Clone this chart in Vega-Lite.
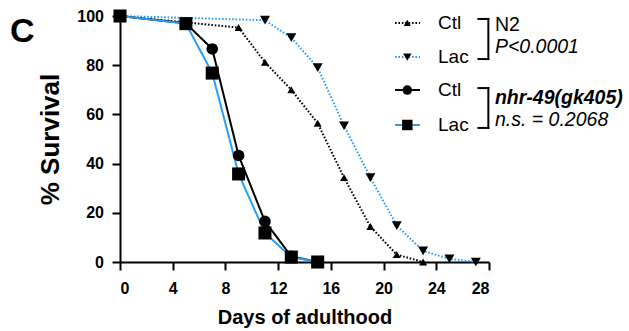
{
  "$schema": "https://vega.github.io/schema/vega-lite/v6.json",
  "width": 369,
  "height": 246,
  "autosize": {"type": "none"},
  "padding": {"left": 120, "top": 16, "right": 140, "bottom": 69},
  "background": "white",
  "config": {
    "view": {"stroke": null},
    "font": "Liberation Sans",
    "axis": {
      "grid": false,
      "domainColor": "black",
      "domainWidth": 2,
      "tickColor": "black",
      "tickWidth": 2,
      "tickSize": 8,
      "labelFont": "Liberation Sans",
      "labelFontWeight": "bold",
      "labelFontSize": 16,
      "labelColor": "black",
      "titleFont": "Liberation Sans",
      "titleFontWeight": "bold",
      "titleColor": "black"
    }
  },
  "datasets": {
    "surv": [
      {"series": "N2 Ctl", "day": 0, "pct": 100},
      {"series": "N2 Ctl", "day": 9, "pct": 95.3},
      {"series": "N2 Ctl", "day": 11, "pct": 81.2},
      {"series": "N2 Ctl", "day": 13, "pct": 70},
      {"series": "N2 Ctl", "day": 15, "pct": 56.4},
      {"series": "N2 Ctl", "day": 17, "pct": 34.3},
      {"series": "N2 Ctl", "day": 19, "pct": 14.4},
      {"series": "N2 Ctl", "day": 21, "pct": 3},
      {"series": "N2 Ctl", "day": 23, "pct": 0},
      {"series": "N2 Lac", "day": 0, "pct": 100},
      {"series": "N2 Lac", "day": 11, "pct": 98.3},
      {"series": "N2 Lac", "day": 13, "pct": 91.2},
      {"series": "N2 Lac", "day": 15, "pct": 79},
      {"series": "N2 Lac", "day": 17, "pct": 55.4},
      {"series": "N2 Lac", "day": 19, "pct": 34.3},
      {"series": "N2 Lac", "day": 21, "pct": 14.8},
      {"series": "N2 Lac", "day": 23, "pct": 4.5},
      {"series": "N2 Lac", "day": 25, "pct": 1.3},
      {"series": "N2 Lac", "day": 27, "pct": 0},
      {"series": "nhr-49 Ctl", "day": 0, "pct": 100},
      {"series": "nhr-49 Ctl", "day": 5, "pct": 97},
      {"series": "nhr-49 Ctl", "day": 7, "pct": 86.6},
      {"series": "nhr-49 Ctl", "day": 9, "pct": 43.3},
      {"series": "nhr-49 Ctl", "day": 11, "pct": 16.5},
      {"series": "nhr-49 Ctl", "day": 13, "pct": 2.3},
      {"series": "nhr-49 Ctl", "day": 15, "pct": 0},
      {"series": "nhr-49 Lac", "day": 0, "pct": 100},
      {"series": "nhr-49 Lac", "day": 5, "pct": 96.9},
      {"series": "nhr-49 Lac", "day": 7, "pct": 76.8},
      {"series": "nhr-49 Lac", "day": 9, "pct": 35.8},
      {"series": "nhr-49 Lac", "day": 11, "pct": 11.8},
      {"series": "nhr-49 Lac", "day": 13, "pct": 2},
      {"series": "nhr-49 Lac", "day": 15, "pct": 0}
    ],
    "leg": [
      {"series": "N2 Ctl", "label": "Ctl", "pct": 97.2},
      {"series": "N2 Lac", "label": "Lac", "pct": 83.3},
      {"series": "nhr-49 Ctl", "label": "Ctl", "pct": 69.9},
      {"series": "nhr-49 Lac", "label": "Lac", "pct": 55.7}
    ],
    "brk": [
      {"group": "N2", "top": 98.8, "bottom": 82.5},
      {"group": "nhr-49(gk405)", "top": 70.7, "bottom": 54.5}
    ],
    "ann": [
      {"text": "N2", "pct": 96.3, "style": "plain"},
      {"text": "P<0.0001", "pct": 87.4, "style": "italic"},
      {"text": "nhr-49(gk405)", "pct": 66.7, "style": "bolditalic"},
      {"text": "n.s. = 0.2068", "pct": 57.7, "style": "italic"}
    ],
    "panel": [
      {"text": "C"}
    ]
  },
  "resolve": {"scale": {"size": "independent"}},
  "layer": [
    {
      "data": {"name": "surv"},
      "mark": {"type": "line", "strokeWidth": 2, "clip": false},
      "encoding": {
        "x": {
          "field": "day", "type": "quantitative",
          "scale": {"domain": [0, 28], "nice": false, "zero": false},
          "axis": {"title": "Days of adulthood", "values": [0, 4, 8, 12, 16, 20, 24, 28], "titleFontSize": 20, "labelPadding": 10.5, "titlePadding": 11}
        },
        "y": {
          "field": "pct", "type": "quantitative",
          "scale": {"domain": [0, 100], "nice": false},
          "axis": {"title": "% Survival", "values": [0, 20, 40, 60, 80, 100], "titleFontSize": 26, "labelPadding": 8.5, "titlePadding": 13}
        },
        "color": {
          "field": "series", "type": "nominal",
          "scale": {"domain": ["N2 Ctl", "N2 Lac", "nhr-49 Ctl", "nhr-49 Lac"], "range": ["#000000", "#2a9df4", "#000000", "#2a9df4"]},
          "legend": null
        },
        "strokeDash": {
          "field": "series", "type": "nominal",
          "scale": {"domain": ["N2 Ctl", "N2 Lac", "nhr-49 Ctl", "nhr-49 Lac"], "range": [[1.6, 1.8], [1.6, 1.8], [1, 0], [1, 0]]},
          "legend": null
        }
      }
    },
    {
      "data": {"name": "surv"},
      "mark": {"type": "point", "filled": true, "color": "black", "opacity": 1, "clip": false},
      "encoding": {
        "x": {"field": "day", "type": "quantitative"},
        "y": {"field": "pct", "type": "quantitative"},
        "shape": {
          "field": "series", "type": "nominal",
          "scale": {"domain": ["N2 Ctl", "N2 Lac", "nhr-49 Ctl", "nhr-49 Lac"], "range": ["triangle-up", "triangle-down", "circle", "square"]},
          "legend": null
        },
        "size": {
          "field": "series", "type": "ordinal",
          "scale": {"domain": ["N2 Ctl", "N2 Lac", "nhr-49 Ctl", "nhr-49 Lac"], "range": [65, 170, 45, 135]},
          "legend": null
        }
      }
    },
    {
      "data": {"name": "leg"},
      "mark": {"type": "rule", "strokeWidth": 2, "clip": false},
      "encoding": {
        "x": {"datum": 20.87},
        "x2": {"datum": 22.76},
        "y": {"field": "pct", "type": "quantitative"},
        "color": {"field": "series", "type": "nominal", "legend": null},
        "strokeDash": {"field": "series", "type": "nominal", "legend": null}
      }
    },
    {
      "data": {"name": "leg"},
      "mark": {"type": "point", "filled": true, "color": "black", "opacity": 1, "clip": false},
      "encoding": {
        "x": {"datum": 21.8},
        "y": {"field": "pct", "type": "quantitative"},
        "shape": {"field": "series", "type": "nominal", "legend": null},
        "size": {
          "field": "series", "type": "ordinal",
          "scale": {"domain": ["N2 Ctl", "N2 Lac", "nhr-49 Ctl", "nhr-49 Lac"], "range": [50, 110, 35, 85]},
          "legend": null
        }
      }
    },
    {
      "data": {"name": "leg"},
      "mark": {"type": "text", "align": "left", "baseline": "middle", "fontSize": 19, "font": "Liberation Sans", "color": "black", "clip": false},
      "encoding": {
        "x": {"datum": 24.13},
        "y": {"field": "pct", "type": "quantitative"},
        "text": {"field": "label"}
      }
    },
    {
      "data": {"name": "brk"},
      "mark": {"type": "rule", "strokeWidth": 2, "color": "black", "strokeCap": "square", "clip": false},
      "encoding": {
        "x": {"datum": 27.95},
        "y": {"field": "top", "type": "quantitative"},
        "y2": {"field": "bottom"}
      }
    },
    {
      "data": {"name": "brk"},
      "mark": {"type": "rule", "strokeWidth": 2, "color": "black", "strokeCap": "square", "clip": false},
      "encoding": {
        "x": {"datum": 27.2},
        "x2": {"datum": 27.95},
        "y": {"field": "top", "type": "quantitative"}
      }
    },
    {
      "data": {"name": "brk"},
      "mark": {"type": "rule", "strokeWidth": 2, "color": "black", "strokeCap": "square", "clip": false},
      "encoding": {
        "x": {"datum": 27.2},
        "x2": {"datum": 27.95},
        "y": {"field": "bottom", "type": "quantitative"}
      }
    },
    {
      "data": {"name": "ann"},
      "transform": [{"filter": "datum.style === 'plain'"}],
      "mark": {"type": "text", "align": "left", "baseline": "middle", "fontSize": 19.5, "font": "Liberation Sans", "color": "black", "clip": false},
      "encoding": {
        "x": {"datum": 28.45},
        "y": {"field": "pct", "type": "quantitative"},
        "text": {"field": "text"}
      }
    },
    {
      "data": {"name": "ann"},
      "transform": [{"filter": "datum.style === 'italic'"}],
      "mark": {"type": "text", "align": "left", "baseline": "middle", "fontSize": 19.5, "font": "Liberation Sans", "fontStyle": "italic", "color": "black", "clip": false},
      "encoding": {
        "x": {"datum": 28.45},
        "y": {"field": "pct", "type": "quantitative"},
        "text": {"field": "text"}
      }
    },
    {
      "data": {"name": "ann"},
      "transform": [{"filter": "datum.style === 'bolditalic'"}],
      "mark": {"type": "text", "align": "left", "baseline": "middle", "fontSize": 19.5, "font": "Liberation Sans", "fontStyle": "italic", "fontWeight": "bold", "color": "black", "clip": false},
      "encoding": {
        "x": {"datum": 28.45},
        "y": {"field": "pct", "type": "quantitative"},
        "text": {"field": "text"}
      }
    },
    {
      "data": {"name": "panel"},
      "mark": {"type": "text", "align": "left", "baseline": "alphabetic", "fontSize": 34, "fontWeight": "bold", "font": "Liberation Sans", "color": "black", "clip": false},
      "encoding": {
        "x": {"datum": -8.35},
        "y": {"datum": 89.4},
        "text": {"field": "text"}
      }
    }
  ]
}
